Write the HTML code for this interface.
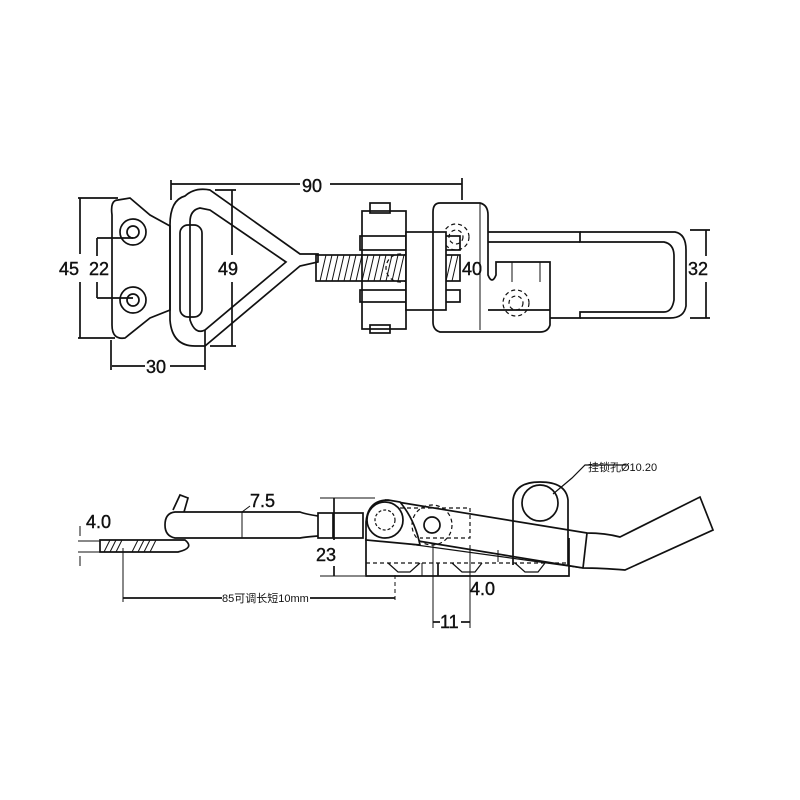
<!DOCTYPE html>
<html><head><meta charset="utf-8"><style>
html,body{margin:0;padding:0;background:#fff;width:800px;height:800px;overflow:hidden}
svg text{font-family:"Liberation Sans","Noto Sans CJK SC",sans-serif;fill:#111}
.d{font-size:18px;stroke:#111;stroke-width:0.4}
</style></head><body>
<svg width="800" height="800" viewBox="0 0 800 800" fill="none" stroke="#111" stroke-width="1.7">
<!-- TOP VIEW -->
<line x1="171" y1="184" x2="300" y2="184"/><line x1="330" y1="184" x2="462" y2="184"/>
<line x1="171" y1="180" x2="171" y2="200"/><line x1="462" y1="178" x2="462" y2="200"/>
<text x="302" y="192" class="d">90</text>
<line x1="80" y1="198" x2="80" y2="254"/><line x1="80" y1="282" x2="80" y2="338"/>
<line x1="78" y1="198" x2="118" y2="198"/><line x1="78" y1="338" x2="115" y2="338"/>
<text x="59" y="275" class="d">45</text>
<line x1="97" y1="238" x2="97" y2="256"/><line x1="97" y1="282" x2="97" y2="298"/>
<line x1="97" y1="238" x2="133" y2="238"/><line x1="97" y1="298" x2="133" y2="298"/>
<text x="89" y="275" class="d">22</text>
<line x1="232" y1="190" x2="232" y2="255"/><line x1="232" y1="282" x2="232" y2="346"/><line x1="215" y1="190" x2="236" y2="190"/><line x1="210" y1="346" x2="236" y2="346"/>
<text x="218" y="275" class="d">49</text>
<line x1="112" y1="366" x2="145" y2="366"/><line x1="170" y1="366" x2="205" y2="366"/>
<line x1="111" y1="340" x2="111" y2="370"/><line x1="205" y1="330" x2="205" y2="370"/>
<text x="146" y="373" class="d">30</text>
<path d="M118 200 Q110 200 112 215 L112 325 Q112 340 125 338 L150 318 L170 310 L170 226 L150 215 L130 198 Z"/>
<circle cx="133" cy="232" r="13"/><circle cx="133" cy="232" r="6"/>
<circle cx="133" cy="300" r="13"/><circle cx="133" cy="300" r="6"/>
<path d="M185 196 Q170 200 170 225 L170 320 Q172 346 195 346 L205 346 L300 266 L318 262 L318 254 L300 254 L210 190 Q195 187 185 196 Z"/>
<path d="M200 208 Q190 210 190 222 L190 320 Q195 335 205 330 L286 262 L210 210 Z"/>
<rect x="180" y="225" width="22" height="92" rx="8"/>
<rect x="316" y="255" width="92" height="26"/>
<g stroke-width="1">
<path d="M320 281 L326 255 M326 281 L332 255 M332 281 L338 255 M338 281 L344 255 M344 281 L350 255 M350 281 L356 255 M356 281 L362 255 M362 281 L368 255 M368 281 L374 255 M374 281 L380 255 M380 281 L386 255 M386 281 L392 255 M392 281 L398 255 M398 281 L404 255 M446 281 L452 255 M452 281 L458 255"/>
</g>
<rect x="440" y="255" width="20" height="26"/>
<g stroke-dasharray="4 3" stroke-width="1.2"><line x1="405" y1="255" x2="440" y2="255"/><line x1="405" y1="281" x2="440" y2="281"/><circle cx="400" cy="268" r="14"/><circle cx="456" cy="237" r="13"/><circle cx="456" cy="237" r="7"/><circle cx="516" cy="303" r="13"/><circle cx="516" cy="303" r="7"/></g>
<rect x="362" y="211" width="44" height="118"/>
<rect x="360" y="236" width="100" height="14"/><rect x="360" y="290" width="100" height="12"/>
<rect x="370" y="203" width="20" height="10"/><rect x="370" y="325" width="20" height="8"/>
<rect x="406" y="232" width="40" height="78" fill="#fff"/>
<path d="M440 203 L480 203 Q488 205 488 215 L488 275 Q492 285 496 275 L496 262 L550 262 L550 285 L550 325 Q548 332 540 332 L440 332 Q433 330 433 322 L433 212 Q433 203 440 203Z"/>
<line x1="480" y1="203" x2="480" y2="330" stroke-width="1"/>
<line x1="512" y1="262" x2="512" y2="282" stroke-width="1"/><line x1="540" y1="262" x2="540" y2="282" stroke-width="1"/>
<text x="462" y="275" class="d">40</text>
<path d="M488 232 L580 232 L580 242 L664 242 Q674 244 674 256 L674 300 Q672 312 664 312 L580 312 L580 318 L550 318"/>
<path d="M488 242 L580 242 M488 310 L550 310 M580 232 L675 232 Q686 234 686 250 L686 306 Q684 318 670 318 L580 318"/>
<line x1="690" y1="230" x2="710" y2="230"/><line x1="690" y1="318" x2="710" y2="318"/>
<line x1="706" y1="230" x2="706" y2="256"/><line x1="706" y1="282" x2="706" y2="318"/>
<text x="688" y="275" class="d">32</text>

<!-- SIDE VIEW -->
<text x="588" y="471" font-size="11" stroke="none">挂锁孔Ø10.20</text>
<polyline points="626,465 585,465 572,478 553,494" stroke-width="1.2"/>
<!-- body -->
<path d="M366 538 L366 576 L569 576 L569 538"/>
<line x1="366" y1="563" x2="569" y2="563" stroke-dasharray="4 3" stroke-width="1.2"/>
<path d="M388 563 L398 572 L410 572 L420 563 M452 563 L462 572 L475 572 L482 563 M515 563 L525 572 L538 572 L545 563" stroke-width="1.2"/>
<line x1="438" y1="563" x2="438" y2="576"/><line x1="422" y1="563" x2="422" y2="576" stroke-width="1"/>
<!-- loop plate -->
<path d="M513 565 L513 500 Q515 482 540 482 Q566 482 568 500 L568 565"/>
<circle cx="540" cy="503" r="18"/>
<!-- handle -->
<path d="M385 500 L587 533 Q605 533 620 537 L700 497 L713 530 L625 570 Q600 568 583 568 L412 540"/>
<path d="M587 533 L583 568"/>
<path d="M380 540 L583 568" stroke-width="1.2"/>
<!-- link lobe -->
<path d="M366 522 Q368 500 388 500 L400 502 Q415 520 420 545 L366 540 Z" fill="#fff"/>
<circle cx="385" cy="520" r="18" fill="#fff"/><circle cx="385" cy="520" r="10" stroke-dasharray="3 2" stroke-width="1.2"/>
<path d="M400 508 L470 508 L470 538 L420 538" stroke-dasharray="4 3" stroke-width="1.2"/>
<circle cx="432" cy="525" r="20" stroke-dasharray="4 3" stroke-width="1.2"/><circle cx="432" cy="525" r="8"/>
<!-- rod -->
<rect x="318" y="513" width="45" height="25"/><line x1="333" y1="513" x2="333" y2="538"/>
<path d="M318 516 Q305 514 300 512 L175 512 Q165 513 165 525 Q165 536 175 538 L300 538 Q305 537 318 536"/>
<path d="M173 510 L180 495 L188 498 L184 512"/>
<path d="M100 540 L185 540 Q195 548 178 552 L100 552 Z"/>
<g stroke-width="1"><path d="M104 552 L110 540 M110 552 L116 540 M116 552 L122 540 M132 552 L138 540 M138 552 L144 540 M144 552 L150 540 M150 552 L156 540"/></g>
<line x1="242" y1="512" x2="242" y2="538" stroke-width="1"/><line x1="242" y1="512" x2="250" y2="506" stroke-width="1"/>
<text x="250" y="507" class="d">7.5</text>
<text x="86" y="528" class="d">4.0</text>
<line x1="80" y1="526" x2="80" y2="536" stroke-width="1"/><line x1="80" y1="556" x2="80" y2="566" stroke-width="1"/>
<line x1="78" y1="541" x2="100" y2="541" stroke-width="1"/><line x1="78" y1="552" x2="100" y2="552" stroke-width="1"/>
<line x1="123" y1="548" x2="123" y2="602" stroke-width="1"/>
<line x1="123" y1="598" x2="222" y2="598"/><line x1="310" y1="598" x2="395" y2="598"/><line x1="395" y1="575" x2="395" y2="602" stroke-dasharray="4 3" stroke-width="1"/>
<text x="222" y="602" font-size="11" stroke="none">85可调长短10mm</text>
<line x1="320" y1="498" x2="375" y2="498" stroke-width="1"/><line x1="320" y1="576" x2="365" y2="576" stroke-width="1"/>
<line x1="334" y1="498" x2="334" y2="540"/><line x1="334" y1="566" x2="334" y2="576"/>
<text x="316" y="561" class="d">23</text>
<line x1="433" y1="545" x2="433" y2="628" stroke-width="1"/><line x1="470" y1="545" x2="470" y2="628" stroke-width="1"/>
<line x1="433" y1="622" x2="440" y2="622"/><line x1="461" y1="622" x2="470" y2="622"/>
<text x="440" y="628" class="d">11</text>
<line x1="498" y1="550" x2="498" y2="562" stroke-width="1"/>
<text x="470" y="595" class="d">4.0</text>
</svg>
</body></html>
